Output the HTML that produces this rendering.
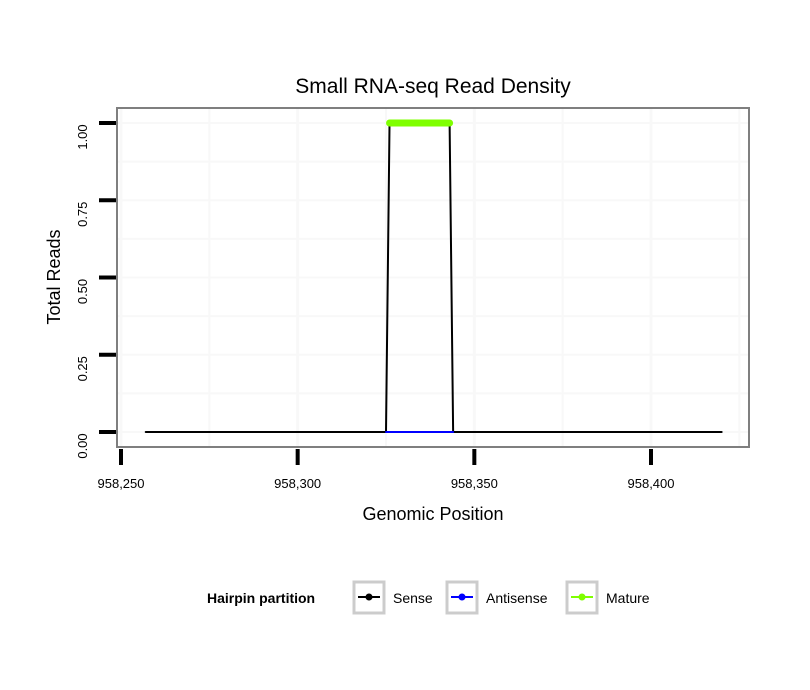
<!DOCTYPE html>
<html><head><meta charset="utf-8"><style>body{margin:0;background:#fff}svg{display:block}text{font-family:"Liberation Sans",sans-serif}</style></head>
<body>
<svg id="c" width="810" height="690"></svg>
<script>
const xTicks=[958250,958300,958350,958400];
const xTickLabels=["958,250","958,300","958,350","958,400"];
const yTicks=[0,0.25,0.5,0.75,1];
const yTickLabels=["0.00","0.25","0.50","0.75","1.00"];
const senseX=[958257,958325,958326,958343,958344,958420];
const senseY=[0,0,1,1,0,0];
const antisenseX=[958325,958344];
const antisenseY=[0,0];
const matureX=[958326,958343];
const matureY=[1,1];
const NS="http://www.w3.org/2000/svg",svg=document.getElementById('c');
const X=v=>121+(v-958250)*(651-121)/150, Y=v=>432-v*309;
function el(t,a,p){const e=document.createElementNS(NS,t);for(const k in a)e.setAttribute(k,a[k]);(p||svg).appendChild(e);return e;}
let r=el('rect',{x:117,y:108,width:632,height:339,fill:'#fff',stroke:'none'});

for(let v=958225;v<=958425;v+=25){if(X(v)<118||X(v)>748)continue;let g=el('line',{x1:X(v),x2:X(v),y1:108,y2:447,stroke:'#f8f8f8','stroke-width':v%50==0?3:2});}
for(let v=0;v<=1.0001;v+=0.125){let g=el('line',{x1:117,x2:749,y1:Y(v),y2:Y(v),stroke:'#f8f8f8','stroke-width':2});}
function line(xs,ys,col,w,name){let p=el('polyline',{points:xs.map((x,i)=>X(x)+','+Y(ys[i])).join(' '),fill:'none',stroke:col,'stroke-width':w,'stroke-linecap':'round'});}
line(senseX,senseY,'#000',2,'sense-line');
line(antisenseX,antisenseY,'#0000ff',2,'antisense-line');
line(matureX,matureY,'#7fff00',7,'mature-line');
let b=el('rect',{x:117,y:108,width:632,height:339,fill:'none',stroke:'#7f7f7f','stroke-width':2});

xTicks.forEach((v,i)=>{let t=el('line',{x1:X(v),x2:X(v),y1:449,y2:465,stroke:'#000','stroke-width':4});
let l=el('text',{x:X(v),y:488,'text-anchor':'middle','font-size':13});l.textContent=xTickLabels[i];});
yTicks.forEach((v,i)=>{let t=el('line',{x1:99,x2:116,y1:Y(v),y2:Y(v),stroke:'#000','stroke-width':4});
let l=el('text',{x:0,y:0,'text-anchor':'middle','font-size':13,transform:`translate(87,${Y(v)+14}) rotate(-90)`});l.textContent=yTickLabels[i];});
function txt(s,a,name){let t=el('text',a);t.textContent=s;return t;}
txt('Small RNA-seq Read Density',{x:433,y:93,'text-anchor':'middle','font-size':21},'chart-title');
txt('Genomic Position',{x:433,y:520,'text-anchor':'middle','font-size':18},'x-axis-title');
txt('Total Reads',{x:0,y:0,'text-anchor':'middle','font-size':18,transform:'translate(60,277) rotate(-90)'},'y-axis-title');
txt('Hairpin partition',{x:207,y:603,'font-size':14,'font-weight':'bold'},'legend-title');
[['Sense','#000',353],['Antisense','#0000ff',446],['Mature','#7fff00',566]].forEach(([n,c,x])=>{
let k=el('rect',{x:x+1,y:582,width:30,height:31,fill:'#fff',stroke:'#cccccc','stroke-width':3});
let l=el('line',{x1:x+5,x2:x+27,y1:597,y2:597,stroke:c,'stroke-width':2});
let d=el('circle',{cx:x+16,cy:597,r:3.5,fill:c});
let t=el('text',{x:x+40,y:603,'font-size':14});t.textContent=n;});
</script>
</body></html>
